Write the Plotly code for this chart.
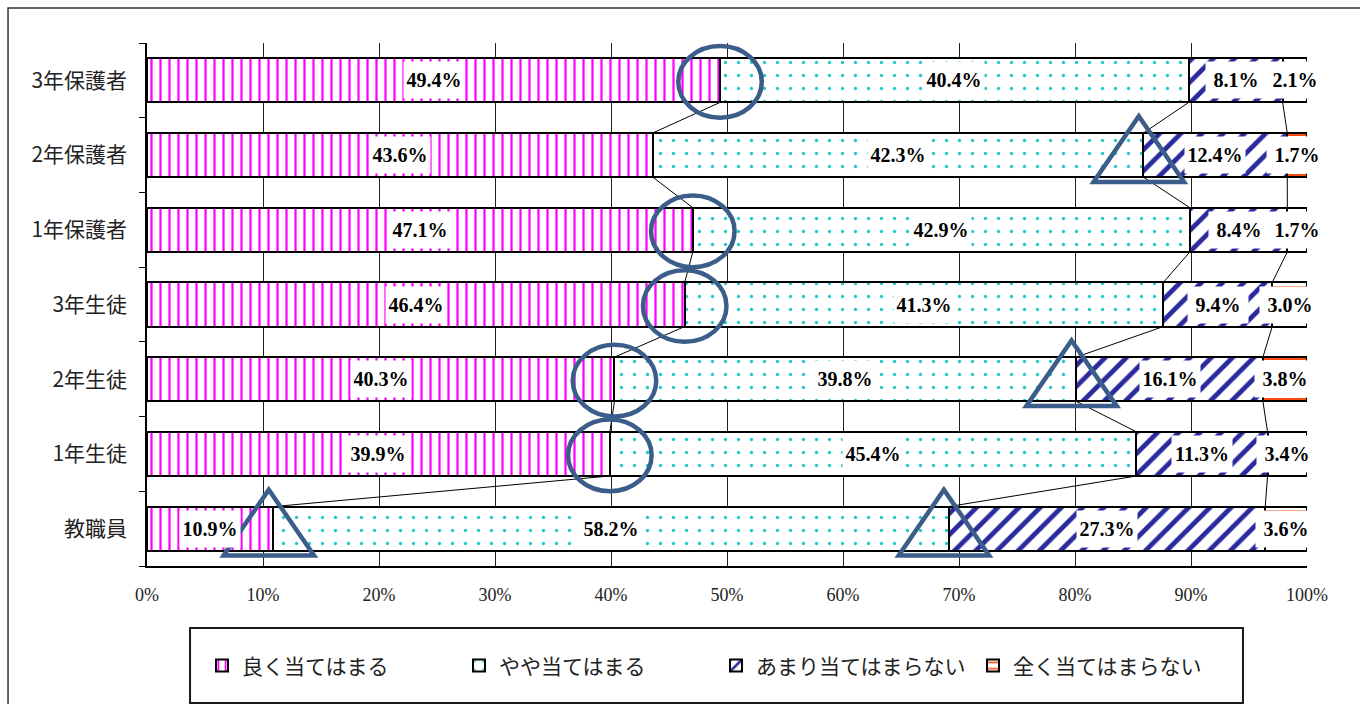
import plotly.graph_objects as go

# ---------------- data ----------------
categories = ["教職員", "1年生徒", "2年生徒", "3年生徒", "1年保護者", "2年保護者", "3年保護者"]
series_names = ["良く当てはまる", "やや当てはまる", "あまり当てはまらない", "全く当てはまらない"]
s_yoku = [10.9, 39.9, 40.3, 46.4, 47.1, 43.6, 49.4]
s_yaya = [58.2, 45.4, 39.8, 41.3, 42.9, 42.3, 40.4]
s_amari = [27.3, 11.3, 16.1, 9.4, 8.4, 12.4, 8.1]
s_mattaku = [3.6, 3.4, 3.8, 3.0, 1.7, 1.7, 2.1]
x_tick_vals = [0, 10, 20, 30, 40, 50, 60, 70, 80, 90, 100]
x_tick_text = [f"{v}%" for v in x_tick_vals]

# hand-drawn highlight marks: (category, boundary after series index, kind)
highlights = [
    ("3年保護者", 0, "circle"), ("1年保護者", 0, "circle"), ("3年生徒", 0, "circle"),
    ("2年生徒", 0, "circle"), ("1年生徒", 0, "circle"),
    ("2年保護者", 1, "triangle"), ("2年生徒", 1, "triangle"),
    ("教職員", 0, "triangle"), ("教職員", 1, "triangle"),
]

# ---------------- styles ----------------
series_data = [s_yoku, s_yaya, s_amari, s_mattaku]
patterns = [
    dict(shape="|", fgcolor="#ff00ff", bgcolor="white", size=9, solidity=0.25, fillmode="replace"),
    dict(shape=".", fgcolor="#22c8c8", bgcolor="white", size=13, solidity=0.05, fillmode="replace"),
    dict(shape="/", fgcolor="#2a2a9e", bgcolor="white", size=15, solidity=0.32, fillmode="replace"),
    dict(shape="-", fgcolor="#ff4a10", bgcolor="white", size=8, solidity=0.25, fillmode="replace"),
]
BAR_W = 0.59
HL_COLOR = "#3b5d8a"
NUM_FONT = dict(family="Liberation Serif", size=20, color="black", weight="bold")

ypos = list(range(len(categories)))

fig = go.Figure()
for name, vals, pat in zip(series_names, series_data, patterns):
    fig.add_trace(go.Bar(
        y=ypos, x=vals, name=name, orientation="h", width=BAR_W,
        marker=dict(color="white", pattern=pat, line=dict(color="black", width=2)),
        hoverinfo="skip",
    ))

# normalized cumulative boundaries (100% stacked)
cums = []
for i in range(len(categories)):
    vals = [s[i] for s in series_data]
    tot = sum(vals)
    c = [0.0]
    for v in vals:
        c.append(c[-1] + v / tot * 100)
    cums.append(c)

# value labels
for i in range(len(categories)):
    for j, s in enumerate(series_data):
        xc = (cums[i][j] + cums[i][j + 1]) / 2
        fig.add_annotation(
            x=xc, y=i, xref="x", yref="y", text=f"{s[i]:.1f}%", showarrow=False,
            bgcolor="white", width=58, height=34, borderpad=1, font=NUM_FONT,
        )

shapes = []
# series lines between consecutive bars
for k in range(1, len(categories)):
    for j in range(1, 4):
        shapes.append(dict(
            type="line", xref="x", yref="y",
            x0=cums[k][j], y0=k - BAR_W / 2, x1=cums[k - 1][j], y1=k - 1 + BAR_W / 2,
            line=dict(color="black", width=1), layer="above",
        ))

# highlight marks
for cat, b, kind in highlights:
    i = categories.index(cat)
    bx = cums[i][b + 1]
    if kind == "circle":
        shapes.append(dict(type="circle", xref="x", yref="y",
                           x0=bx - 3.6, x1=bx + 3.6, y0=i - 0.5, y1=i + 0.46,
                           line=dict(color=HL_COLOR, width=4.5), layer="above"))
    else:
        cx = bx - 0.4
        path = (f"M {cx - 3.9},{i - 0.36} L {cx + 3.9},{i - 0.36} "
                f"L {cx},{i + 0.52} Z")
        shapes.append(dict(type="path", xref="x", yref="y", path=path,
                           line=dict(color=HL_COLOR, width=4.5), layer="above"))

# legend frame and outer frame
shapes.append(dict(type="rect", xref="paper", yref="paper",
                   x0=0.0371, x1=0.9448, y0=-0.2620, y1=-0.1185,
                   line=dict(color="#1a1a1a", width=2), fillcolor="white", layer="below"))
shapes.append(dict(type="rect", xref="paper", yref="paper",
                   x0=-0.1198, x1=1.08, y0=-0.40, y1=1.0669,
                   line=dict(color="#333333", width=1.5), layer="below"))

fig.update_layout(
    width=1360, height=704,
    margin=dict(l=147, r=53, t=43, b=138),
    paper_bgcolor="white", plot_bgcolor="white",
    barmode="stack", barnorm="percent", bargap=0.41,
    font=dict(family="Noto Sans CJK JP", color="#222222"),
    shapes=shapes,
    showlegend=True,
    legend=dict(
        orientation="h", x=0.4905, xanchor="center", y=-0.191, yanchor="middle",
        bgcolor="rgba(0,0,0,0)", borderwidth=0, traceorder="normal",
        font=dict(family="Noto Sans CJK JP", size=21, color="#222222"),
        entrywidth=212, entrywidthmode="pixels",
    ),
    xaxis=dict(
        range=[0, 100], tickvals=x_tick_vals, ticktext=x_tick_text,
        showgrid=True, gridcolor="#222222", gridwidth=1,
        showline=True, linecolor="black", linewidth=1.5,
        ticks="", ticklabelstandoff=12, zeroline=False,
        tickfont=dict(family="Liberation Serif", size=18, color="#222222"),
    ),
    yaxis=dict(
        range=[-0.5, len(categories) - 0.5], tickvals=ypos, ticktext=categories,
        showgrid=False, zeroline=False,
        showline=True, linecolor="black", linewidth=1.5,
        ticks="", ticklabelstandoff=14,
        minor=dict(ticks="outside", tickmode="linear", tick0=-0.5, dtick=1,
                   ticklen=6, tickcolor="black", tickwidth=1, showgrid=False),
        tickfont=dict(family="Noto Sans CJK JP", size=21, color="#222222"),
    ),
)

fig.write_html("out.html")
